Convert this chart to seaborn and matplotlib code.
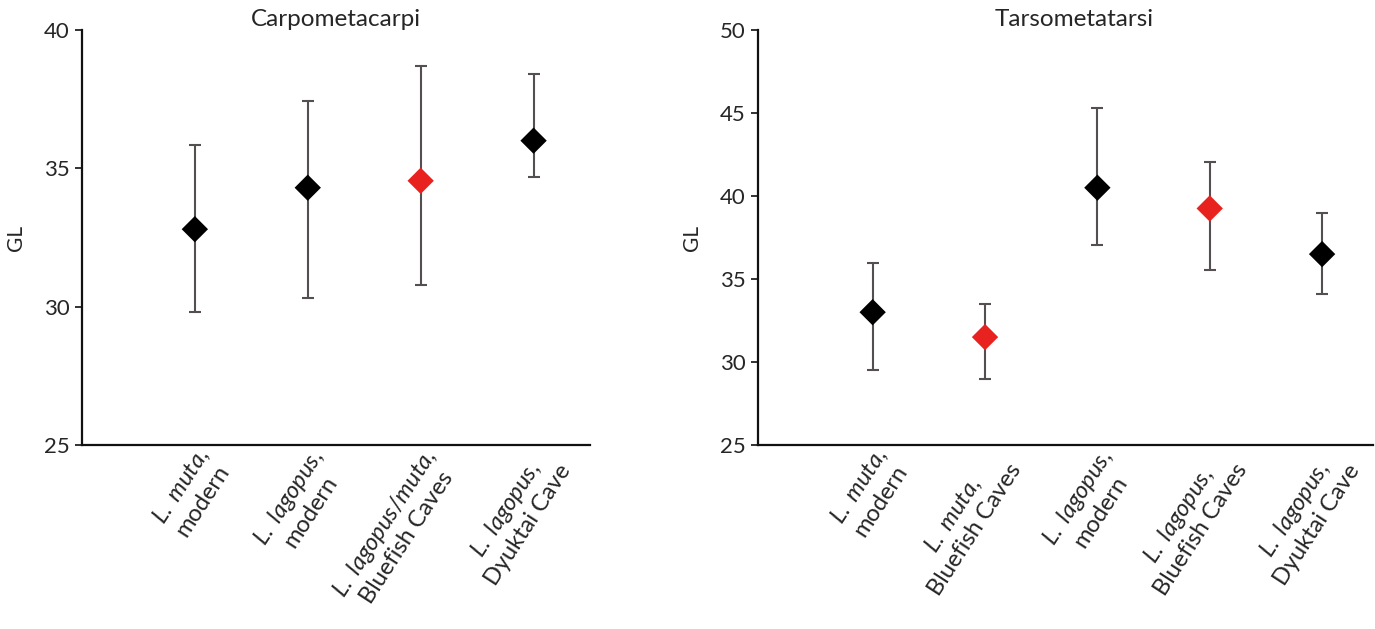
import pandas as pd
import seaborn as sns
import matplotlib.pyplot as plt

# values
carpo_labels = [r"$\mathit{L.\ muta}$," + "\nmodern",
                r"$\mathit{L.\ lagopus}$," + "\nmodern",
                r"$\mathit{L.\ lagopus/muta}$," + "\nBluefish Caves",
                r"$\mathit{L.\ lagopus}$," + "\nDyuktai Cave"]
carpo_mean = [32.8, 34.3, 34.55, 36.0]
carpo_low = [29.8, 30.3, 30.8, 34.7]
carpo_high = [35.85, 37.45, 38.7, 38.4]
carpo_fossil = [False, False, True, False]

tarso_labels = [r"$\mathit{L.\ muta}$," + "\nmodern",
                r"$\mathit{L.\ muta}$," + "\nBluefish Caves",
                r"$\mathit{L.\ lagopus}$," + "\nmodern",
                r"$\mathit{L.\ lagopus}$," + "\nBluefish Caves",
                r"$\mathit{L.\ lagopus}$," + "\nDyuktai Cave"]
tarso_mean = [33.0, 31.5, 40.5, 39.25, 36.5]
tarso_low = [29.5, 29.0, 37.05, 35.55, 34.1]
tarso_high = [35.95, 33.5, 45.3, 42.05, 39.0]
tarso_fossil = [False, True, False, True, False]

sns.set_style("ticks")
plt.rcParams['font.family'] = ['Lato', 'DejaVu Sans']
plt.rcParams['mathtext.fontset'] = 'custom'
plt.rcParams['mathtext.rm'] = 'Lato'
plt.rcParams['mathtext.it'] = 'Lato:italic'

fig = plt.figure(figsize=(13.75, 6.29), dpi=100)
ax1 = fig.add_axes([0.0596, 0.2925, 0.3695, 0.6598])
ax2 = fig.add_axes([0.5513, 0.2925, 0.4470, 0.6598])

panels = [
    (ax1, "Carpometacarpi", carpo_labels, carpo_mean, carpo_low, carpo_high, carpo_fossil,
     (25, 40), (-1.0, 3.5), 0.5),
    (ax2, "Tarsometatarsi", tarso_labels, tarso_mean, tarso_low, tarso_high, tarso_fossil,
     (25, 50), (-1.02, 4.45), 0.515),
]

for ax, title, labels, mean, low, high, fossil, ylim, xlim, tx in panels:
    df = pd.DataFrame({'pos': range(len(mean)), 'GL': mean, 'low': low, 'high': high,
                       'group': ['fossil' if f else 'ref' for f in fossil]})
    ax.errorbar(df['pos'], df['GL'], yerr=[df['GL'] - df['low'], df['high'] - df['GL']],
                fmt='none', ecolor='#555050', elinewidth=1.5, capsize=4, capthick=1.5, zorder=1)
    sns.scatterplot(data=df, x='pos', y='GL', hue='group', marker='D', s=180,
                    palette={'ref': 'black', 'fossil': '#e8231f'}, edgecolor='none',
                    legend=False, ax=ax, zorder=3)
    ax.set_ylim(*ylim)
    ax.set_xlim(*xlim)
    ax.set_yticks(range(ylim[0], ylim[1] + 1, 5))
    ax.set_xticks(df['pos'])
    ax.set_xticklabels(labels, rotation=57, ha='right', va='top', rotation_mode='anchor',
                       multialignment='center', fontsize=17)
    ax.tick_params(axis='x', length=0, pad=0)
    ax.tick_params(axis='y', labelsize=16, length=5, width=1.3, color='#222222', pad=4)
    ax.set_xlabel('')
    ax.set_ylabel('GL', fontsize=15, labelpad=13)
    ax.set_title(title, fontsize=17.5, pad=0, va='baseline', x=tx)
    sns.despine(ax=ax)
    for s in ['left', 'bottom']:
        ax.spines[s].set_linewidth(1.6)
        ax.spines[s].set_color('#111111')

fig.savefig('out.png', dpi=100)
